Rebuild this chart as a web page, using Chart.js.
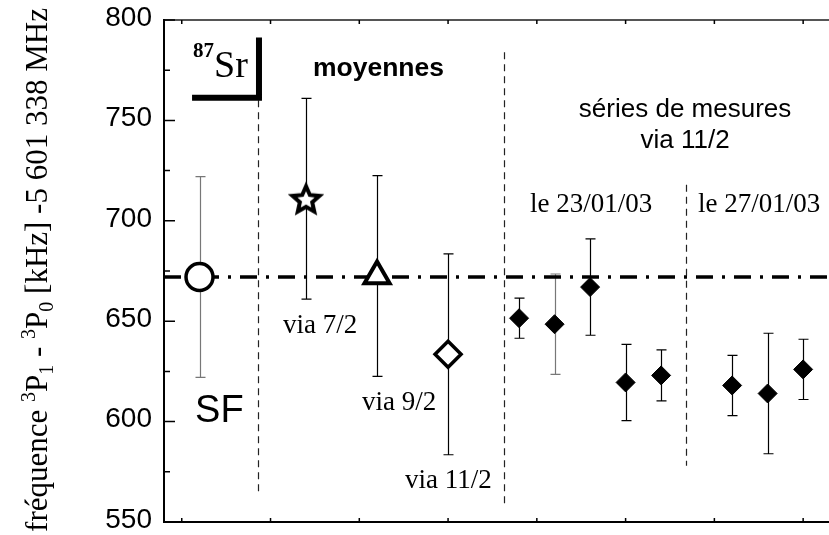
<!DOCTYPE html>
<html>
<head>
<meta charset="utf-8">
<style>
  html, body { margin: 0; padding: 0; background: #fff; overflow: hidden; }
</style>
<script src="https://cdn.jsdelivr.net/npm/chart.js@4.4.0/dist/chart.umd.min.js"></script>
</head>
<body>
<canvas id="chartjs" width="829" height="535"></canvas>
<script>
// values (kHz offset)
const sfX = [1];
const sfY = [672];
const sfErr = [50];

const starX = [7];
const starY = [711];
const starErr = [50];

const triX = [11];
const triY = [672.5];
const triErr = [50];

const openX = [15];
const openY = [633.5];
const openErr = [50];

const seriesX = [19, 21, 23, 25, 27, 31, 33, 35];
const seriesY = [651.5, 648.5, 667, 619.5, 623, 618, 614, 626];
const seriesErr = [10, 25, 24, 19, 12.7, 15, 30, 15];

const meanValue = 672;
const yTicks = [550, 600, 650, 700, 750, 800];
const yMinor = [575, 625, 675, 725, 775];
const xTicks = [0, 5, 10, 15, 20, 25, 30, 35];

const serif = "'Liberation Serif', 'Times New Roman', serif";
const sans = "'Liberation Sans', Arial, sans-serif";

const toPts = (xs, ys) => xs.map((x, i) => ({ x, y: ys[i] }));

const makeStar = () => {
  const c = document.createElement("canvas");
  c.width = 36;
  c.height = 36;
  const g = c.getContext("2d");
  g.beginPath();
  for (let i = 0; i < 10; i++) {
    const r = i % 2 ? 6.5 : 14;
    const a = -Math.PI / 2 + (i * Math.PI) / 5;
    g.lineTo(18 + r * Math.cos(a), 19.5 + r * Math.sin(a));
  }
  g.closePath();
  g.fillStyle = "#fff";
  g.fill();
  g.lineWidth = 4;
  g.strokeStyle = "#000";
  g.stroke();
  return c;
};

// dashed separators, in data units
const separators = [
  { x: 4.3, from: 565, to: 760 },
  { x: 18.15, from: 559, to: 784 },
  { x: 28.4, from: 578, to: 718 }
];

const notes = [
  { text: "SF", x: 0.75, y: 599.6, font: `38px ${sans}`, align: "left" },
  { text: "via 7/2", x: 5.7, y: 644, font: `27px ${serif}`, align: "left" },
  { text: "via 9/2", x: 10.15, y: 605.7, font: `27px ${serif}`, align: "left" },
  { text: "via 11/2", x: 12.58, y: 566.7, font: `27px ${serif}`, align: "left" },
  { text: "le 23/01/03", x: 19.62, y: 704.4, font: `27px ${serif}`, align: "left" },
  { text: "le 27/01/03", x: 29.08, y: 704.4, font: `27px ${serif}`, align: "left" },
  { text: "séries de mesures", x: 28.35, y: 751.8, font: `26px ${sans}`, align: "center" },
  { text: "via 11/2", x: 28.35, y: 736.4, font: `26px ${sans}`, align: "center" },
  { text: "moyennes", x: 7.39, y: 772.3, font: `bold 26.5px ${sans}`, align: "left" },
  { text: "87", x: 0.63, y: 781.8, font: `bold 21px ${serif}`, align: "left" },
  { text: "Sr", x: 1.82, y: 771.8, font: `38px ${serif}`, align: "left" }
];

const titleParts = [
  ["fréquence ", 0], ["3", 1], ["P", 0], ["1", -1], [" - ", 0],
  ["3", 1], ["P", 0], ["0", -1], [" [kHz] -5 601 338 MHz", 0]
];

const errorBars = {
  id: "errorBars",
  beforeDatasetsDraw(chart) {
    const { ctx, scales: { x, y } } = chart;
    chart.data.datasets.forEach((ds) => {
      if (!ds.err) return;
      ds.data.forEach((p, i) => {
        const px = Math.round(x.getPixelForValue(p.x)) + 0.5;
        const top = y.getPixelForValue(p.y + ds.err[i]);
        const bot = y.getPixelForValue(p.y - ds.err[i]);
        ctx.save();
        ctx.strokeStyle = (ds.errColors && ds.errColors[i]) || "#000";
        ctx.lineWidth = 1.2;
        ctx.beginPath();
        ctx.moveTo(px, top);
        ctx.lineTo(px, bot);
        ctx.moveTo(px - 5, top);
        ctx.lineTo(px + 5, top);
        ctx.moveTo(px - 5, bot);
        ctx.lineTo(px + 5, bot);
        ctx.stroke();
        ctx.restore();
      });
    });
  }
};

const decorations = {
  id: "decorations",
  beforeDatasetsDraw(chart) {
    const { ctx, scales: { x, y } } = chart;
    ctx.save();
    ctx.strokeStyle = "#222";
    ctx.lineWidth = 1.2;
    ctx.setLineDash([7, 5]);
    separators.forEach((s) => {
      const px = Math.round(x.getPixelForValue(s.x)) + 0.5;
      ctx.beginPath();
      ctx.moveTo(px, y.getPixelForValue(s.to));
      ctx.lineTo(px, y.getPixelForValue(s.from));
      ctx.stroke();
    });
    ctx.restore();
  },
  afterDraw(chart) {
    const { ctx, chartArea, scales: { x, y } } = chart;
    ctx.save();
    // inward ticks
    ctx.strokeStyle = "#000";
    ctx.lineWidth = 1.5;
    ctx.beginPath();
    yTicks.forEach((v) => {
      const py = y.getPixelForValue(v);
      ctx.moveTo(chartArea.left, py);
      ctx.lineTo(chartArea.left + 11, py);
    });
    yMinor.forEach((v) => {
      const py = y.getPixelForValue(v);
      ctx.moveTo(chartArea.left, py);
      ctx.lineTo(chartArea.left + 6, py);
    });
    xTicks.forEach((v) => {
      const px = x.getPixelForValue(v);
      ctx.moveTo(px, chartArea.top);
      ctx.lineTo(px, chartArea.top + 4);
      ctx.moveTo(px, chartArea.bottom);
      ctx.lineTo(px, chartArea.bottom - 4);
    });
    ctx.stroke();

    // 87Sr corner bracket
    ctx.lineWidth = 6;
    ctx.lineJoin = "miter";
    ctx.beginPath();
    ctx.moveTo(x.getPixelForValue(0.58), y.getPixelForValue(761.3));
    ctx.lineTo(x.getPixelForValue(4.35), y.getPixelForValue(761.3));
    ctx.lineTo(x.getPixelForValue(4.35), y.getPixelForValue(791.3));
    ctx.stroke();

    // text notes
    ctx.fillStyle = "#000";
    ctx.textBaseline = "alphabetic";
    notes.forEach((n) => {
      ctx.font = n.font;
      ctx.textAlign = n.align;
      ctx.fillText(n.text, x.getPixelForValue(n.x), y.getPixelForValue(n.y));
    });

    // rotated axis title with super/subscripts
    const big = `31px ${serif}`;
    const small = `20px ${serif}`;
    let total = 0;
    titleParts.forEach(([t, k]) => {
      ctx.font = k ? small : big;
      total += ctx.measureText(t).width;
    });
    ctx.translate(47, 270);
    ctx.rotate(-Math.PI / 2);
    ctx.textAlign = "left";
    let cx = -total / 2;
    titleParts.forEach(([t, k]) => {
      ctx.font = k ? small : big;
      const dy = k === 1 ? -12 : k === -1 ? 6 : 0;
      ctx.fillText(t, cx, dy);
      cx += ctx.measureText(t).width;
    });
    ctx.restore();
  }
};

const initChart = () => {
  const chartElem = document.getElementById("chartjs");
  const edgeAxis = (position, color) => ({
    type: "linear",
    position,
    min: -1,
    max: 36.4,
    grid: { display: false, drawTicks: false },
    ticks: { display: false },
    border: { display: true, color, width: 2 },
    afterFit: (s) => { s.height = 0; }
  });

  new Chart(chartElem, {
    type: "scatter",
    data: {
      datasets: [
        {
          data: toPts(sfX, sfY),
          err: sfErr,
          errColors: ["#777"],
          pointStyle: "circle",
          pointRadius: 13.5,
          borderWidth: 3.5,
          borderColor: "#000",
          backgroundColor: "#fff"
        },
        {
          data: toPts(starX, starY),
          err: starErr,
          pointStyle: makeStar(),
          pointRadius: 14,
          borderColor: "#000",
          backgroundColor: "#fff"
        },
        {
          data: toPts(triX, triY),
          err: triErr,
          pointStyle: "triangle",
          pointRadius: 14.5,
          borderWidth: 4,
          borderColor: "#000",
          backgroundColor: "#fff"
        },
        {
          data: toPts(openX, openY),
          err: openErr,
          pointStyle: "rectRot",
          pointRadius: 13,
          borderWidth: 3.5,
          borderColor: "#000",
          backgroundColor: "#fff"
        },
        {
          data: toPts(seriesX, seriesY),
          err: seriesErr,
          errColors: ["#000", "#777"],
          pointStyle: "rectRot",
          pointRadius: 9.5,
          borderWidth: 1,
          borderColor: "#000",
          backgroundColor: "#000"
        },
        {
          data: [{ x: -1, y: meanValue }, { x: 36.4, y: meanValue }],
          showLine: true,
          pointRadius: 0,
          borderColor: "#000",
          borderWidth: 3.5,
          borderDash: [17, 9, 3, 9],
          order: 10
        }
      ]
    },
    options: {
      responsive: false,
      animation: false,
      layout: { autoPadding: false, padding: { top: 20, bottom: 13, left: 0, right: 1 } },
      plugins: { legend: { display: false }, tooltip: { enabled: false } },
      scales: {
        x: edgeAxis("bottom", "#000"),
        xTop: edgeAxis("top", "#555"),
        y: {
          min: 550,
          max: 800,
          afterBuildTicks: (s) => { s.ticks = yTicks.map((value) => ({ value })); },
          ticks: { font: { family: sans, size: 28 }, color: "#000", padding: 12, labelOffset: -2 },
          grid: { display: false, drawTicks: false },
          border: { display: true, color: "#000", width: 2 },
          afterFit: (s) => {
            s.width = 164;
            s.paddingTop = 0;
            s.paddingBottom = 0;
          }
        }
      }
    },
    plugins: [errorBars, decorations]
  });
};

initChart();
</script>
</body>
</html>
